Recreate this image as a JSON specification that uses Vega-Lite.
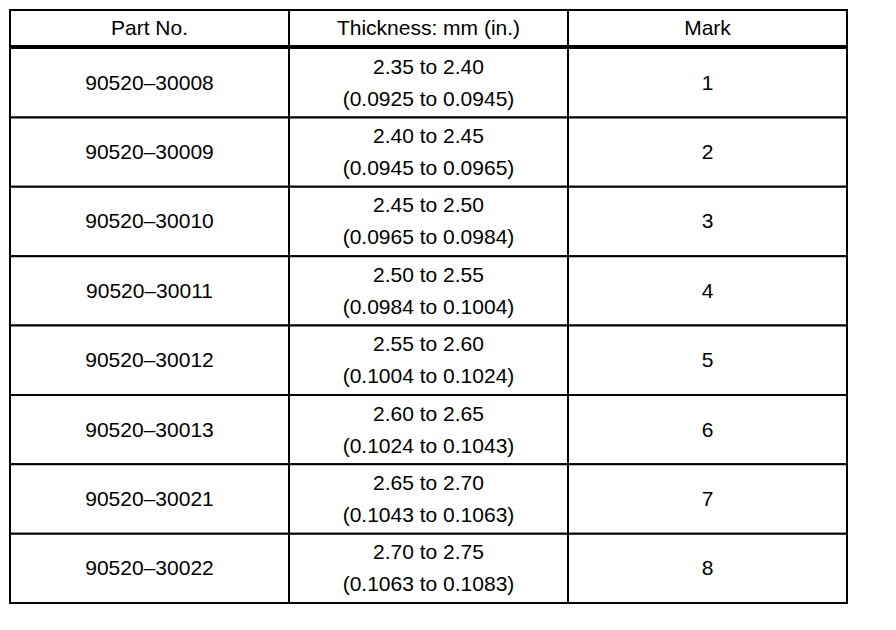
{
  "$schema": "https://vega.github.io/schema/vega-lite/v6.json",
  "description": "Part number / thickness / mark lookup table drawn with rect and text marks.",
  "padding": {"left": 9, "top": 9, "right": 0, "bottom": 0},
  "background": "white",
  "spacing": 0,
  "vconcat": [
    {
      "width": 837,
      "height": 36,
      "data": {
        "values": [
          {"col": "part", "label": "Part No."},
          {"col": "thickness", "label": "Thickness: mm (in.)"},
          {"col": "mark", "label": "Mark"}
        ]
      },
      "encoding": {
        "x": {
          "field": "col",
          "type": "nominal",
          "sort": ["part", "thickness", "mark"],
          "scale": {"paddingInner": 0, "paddingOuter": 0},
          "axis": null
        }
      },
      "layer": [
        {"mark": {"type": "rect", "fill": "white", "stroke": "black", "strokeWidth": 2}},
        {
          "mark": {"type": "text", "font": "Liberation Sans", "fontSize": 21, "color": "black", "baseline": "middle", "dy": 1},
          "encoding": {"text": {"field": "label"}}
        }
      ]
    },
    {
      "width": 837,
      "height": 555,
      "data": {
        "values": [
          {"part": "90520–30008", "thickness": "2.35 to 2.40\n(0.0925 to 0.0945)", "mark": "1"},
          {"part": "90520–30009", "thickness": "2.40 to 2.45\n(0.0945 to 0.0965)", "mark": "2"},
          {"part": "90520–30010", "thickness": "2.45 to 2.50\n(0.0965 to 0.0984)", "mark": "3"},
          {"part": "90520–30011", "thickness": "2.50 to 2.55\n(0.0984 to 0.1004)", "mark": "4"},
          {"part": "90520–30012", "thickness": "2.55 to 2.60\n(0.1004 to 0.1024)", "mark": "5"},
          {"part": "90520–30013", "thickness": "2.60 to 2.65\n(0.1024 to 0.1043)", "mark": "6"},
          {"part": "90520–30021", "thickness": "2.65 to 2.70\n(0.1043 to 0.1063)", "mark": "7"},
          {"part": "90520–30022", "thickness": "2.70 to 2.75\n(0.1063 to 0.1083)", "mark": "8"}
        ]
      },
      "transform": [
        {"fold": ["part", "thickness", "mark"], "as": ["col", "value"]}
      ],
      "encoding": {
        "x": {
          "field": "col",
          "type": "nominal",
          "sort": ["part", "thickness", "mark"],
          "scale": {"paddingInner": 0, "paddingOuter": 0},
          "axis": null
        },
        "y": {
          "field": "part",
          "type": "ordinal",
          "sort": null,
          "scale": {"paddingInner": 0, "paddingOuter": 0},
          "axis": null
        }
      },
      "layer": [
        {"mark": {"type": "rect", "fill": "white", "stroke": "black", "strokeWidth": 2}},
        {
          "transform": [{"filter": "datum.col !== 'thickness'"}],
          "mark": {"type": "text", "font": "Liberation Sans", "fontSize": 21, "color": "black", "baseline": "middle", "dy": 1},
          "encoding": {"text": {"field": "value"}}
        },
        {
          "transform": [{"filter": "datum.col === 'thickness'"}],
          "mark": {
            "type": "text",
            "font": "Liberation Sans",
            "fontSize": 21,
            "color": "black",
            "baseline": "middle",
            "lineBreak": "\n",
            "lineHeight": 32,
            "dy": -15
          },
          "encoding": {"text": {"field": "value"}}
        }
      ]
    }
  ],
  "config": {
    "view": {"stroke": null}
  }
}
